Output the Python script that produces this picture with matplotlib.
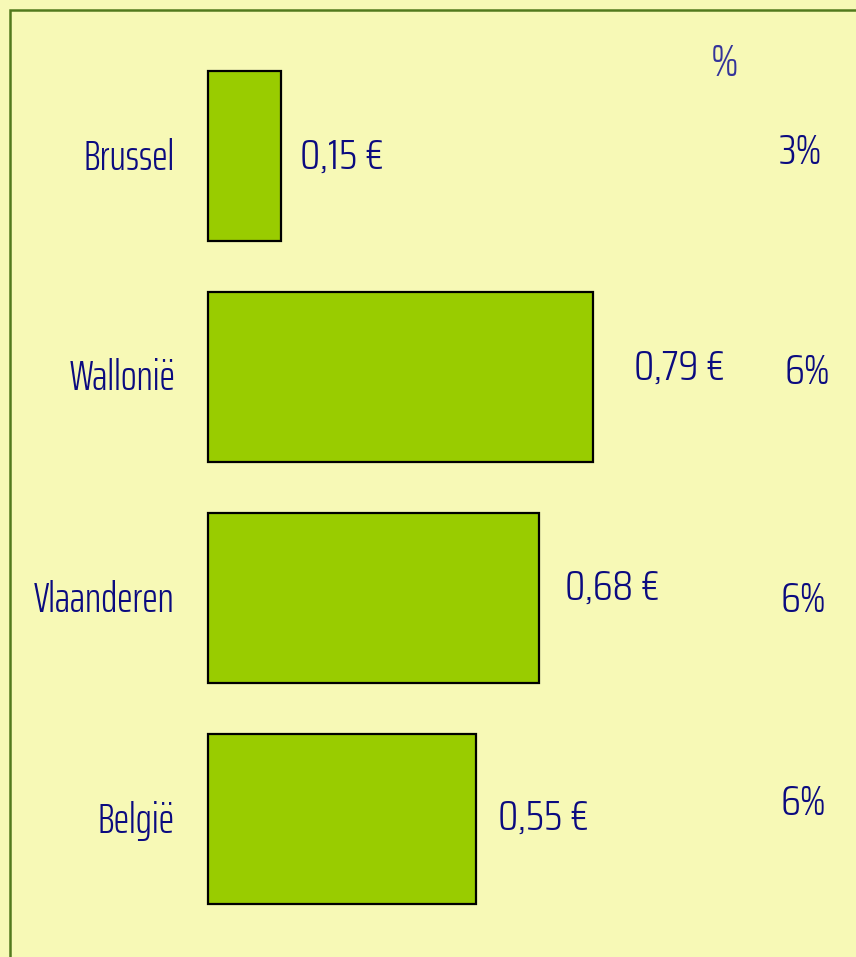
import matplotlib
matplotlib.use("Agg")
import matplotlib.pyplot as plt
from matplotlib.patches import Rectangle

regions = ["Brussel", "Wallonië", "Vlaanderen", "België"]
values = [0.15, 0.79, 0.68, 0.55]
value_labels = ["0,15 €", "0,79 €", "0,68 €", "0,55 €"]
pct_labels = ["3%", "6%", "6%", "6%"]

W, H = 856, 957
bg = "#F7F9B6"
navy = "#0B0B80"
font = ["Saira ExtraCondensed", "DejaVu Sans"]
numfont = ["Saira Condensed", "DejaVu Sans"]
fw = 300

fig = plt.figure(figsize=(W / 100, H / 100), dpi=100, facecolor=bg)
ax = fig.add_axes([0, 0, 1, 1])
ax.set_facecolor(bg)

# pixel layout: x=0 at 208 px, 487 px per euro; rows 221 px apart, first centred at 155.5 px
x0, xs = 208, 487
y0, ys = 155.5, 221
ax.set_xlim(-x0 / xs, (W - x0) / xs)
ax.set_ylim(3 + (H - y0 - 3 * ys) / ys, -y0 / ys)
ax.axis("off")

ypos = list(range(len(regions)))
ax.barh(ypos, values, height=170 / ys, color="#99CC00", edgecolor="black", linewidth=1.6)

# frame (runs off the right and bottom edge)
fig.patches.append(Rectangle((10 / W, -0.1), 1.2, 1 - 10 / H + 0.1,
                             transform=fig.transFigure, fill=False,
                             edgecolor="#527A1E", linewidth=1.8))

fs = 30
val_dx = [19, 41, 26, 22]
val_dy = [-1, 9, 10, 1]
pct_x = [800, 807, 803, 803]
pct_y = [152, 372, 600, 803]

for i, (r, v) in enumerate(zip(regions, values)):
    ax.annotate(r, (0, i), xytext=(-33, -2), textcoords="offset pixels",
                ha="right", va="center", fontsize=fs, color=navy, family=font, weight=fw)
    ax.annotate(value_labels[i], (v, i), xytext=(val_dx[i], val_dy[i]), textcoords="offset pixels",
                ha="left", va="center", fontsize=fs, color=navy, family=numfont, weight=fw)
    ax.text(pct_x[i] / W, 1 - pct_y[i] / H, pct_labels[i], transform=fig.transFigure,
            ha="center", va="center", fontsize=fs, color=navy, family=numfont, weight=fw)

fig.text(725 / W, 1 - 64 / H, "%", ha="center", va="center", fontsize=fs + 2,
         color="#34349A", family=numfont, weight=fw)

fig.savefig("out.png", facecolor=bg)
